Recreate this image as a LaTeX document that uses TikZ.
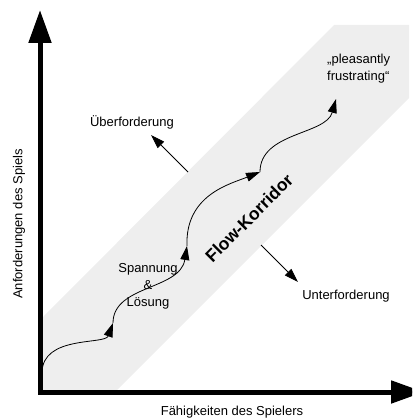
\documentclass[tikz,border=0pt]{standalone}
\usepackage{fontspec}
\setmainfont{Liberation Sans}
\usetikzlibrary{arrows.meta,positioning}
\definecolor{korridorgray}{RGB}{238,238,238}

\begin{document}
\begin{tikzpicture}[x=1pt,y=-1pt,
    every node/.style={font=\fontsize{13}{17}\selectfont, inner sep=0pt},
    achse/.style={line width=5pt, line join=miter,
        {Triangle[length=33pt,width=22pt]}-{Triangle[length=33pt,width=22pt]}},
    pfeil/.style={line width=0.8pt, -{Triangle[length=14pt,width=9pt]}}]
            \path[use as bounding box, clip] (0,0) rectangle (412,419);

            % Korridor
            \fill[korridorgray] (43,390) -- (117,390) -- (409,98) -- (409,25) -- (334,25) -- (43,317) -- cycle;

            % Achsen
            \coordinate (ytop) at (40,10);
            \coordinate (origin) at (40,392);
            \coordinate (xend) at (424,392);
            \draw[achse] (ytop) -- (origin) -- (xend);

            \node[rotate=90] (ylabel) at (19,224) {Anforderungen des Spiels};
            \node (xlabel) at (232,412) {Fähigkeiten des Spielers};

            % Labels
            \node (ueber) at (132,122) {Überforderung};
            \node (unter) at (346,296) {Unterforderung};
            \node[align=center] (spannung) at (148,286) {Spannung\\\&\\Lösung};
            \node[align=left, anchor=west] (pleasant) at (327,69) {„pleasantly\\frustrating“};
            \node[rotate=45, font=\bfseries\fontsize{17.5}{20}\selectfont] (korridor) at (249,218) {Flow-Korridor};

            % Weg
            \coordinate (s0) at (42,373);
            \coordinate (s1) at (113,323);
            \coordinate (s2) at (187,246);
            \coordinate (s3) at (260,172);
            \coordinate (s4) at (336,99);
            \draw[pfeil] (s0) .. controls +(0,-38) and +(-8,22) .. (s1);
            \draw[pfeil] (s1) .. controls +(0,-38) and +(-7,44) .. (s2);
            \draw[pfeil] (s2) .. controls +(-2,-51) and +(-30,12) .. (s3);
            \draw[pfeil] (s3) .. controls +(0,-40) and +(-10,36) .. (s4);

            % Richtungen
            \coordinate (ueber-fuss) at (188,172);
            \coordinate (ueber-spitze) at (151,135);
            \coordinate (unter-fuss) at (261,245);
            \coordinate (unter-spitze) at (298,282);
            \draw[pfeil] (ueber-fuss) -- (ueber-spitze);
            \draw[pfeil] (unter-fuss) -- (unter-spitze);

        \end{tikzpicture}
\end{document}
